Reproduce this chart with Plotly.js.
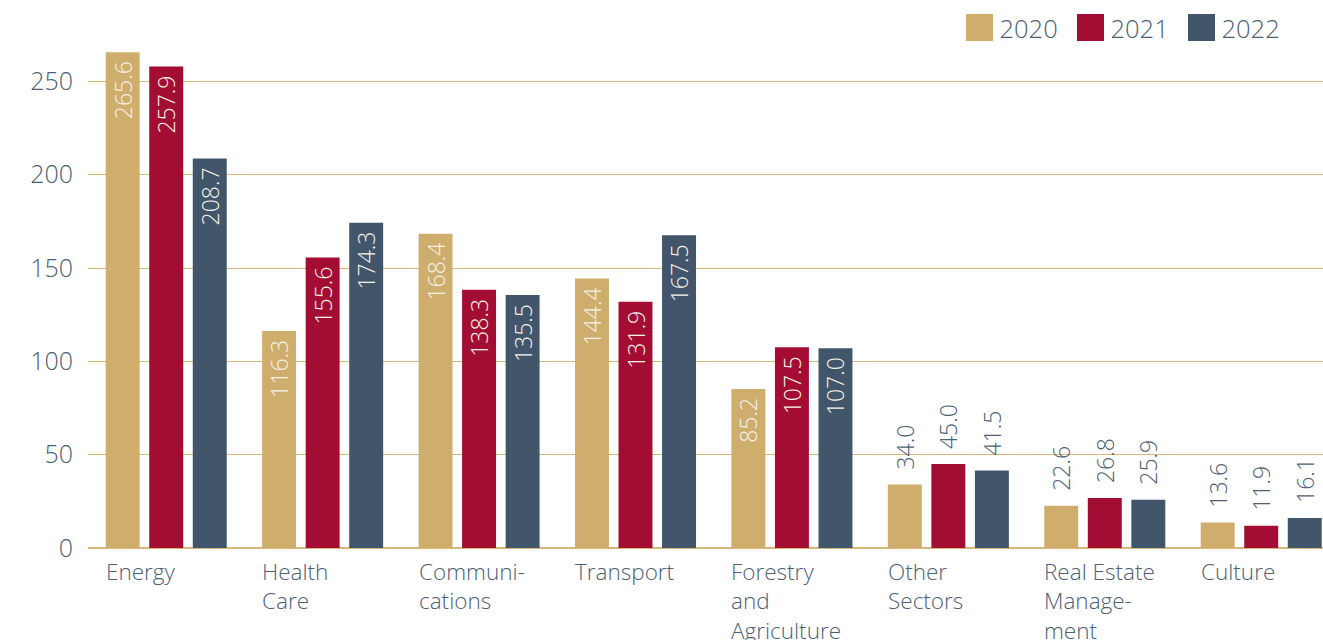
<!DOCTYPE html>
<html>
<head>
<meta charset="utf-8">
<script src="https://cdn.plot.ly/plotly-3.0.1.min.js"></script>
<style>
html,body{margin:0;padding:0;background:#fff;}
#chart{width:1323px;height:640px;}
</style>
</head>
<body>
<div id="chart"></div>
<script>
const categories = ['Energy','Health<br>Care','Communi-<br>cations','Transport','Forestry<br>and<br>Agriculture','Other<br>Sectors','Real Estate<br>Manage-<br>ment','Culture'];
const years = ['2020','2021','2022'];
const values2020 = [265.6,116.3,168.4,144.4,85.2,34.0,22.6,13.6];
const values2021 = [257.9,155.6,138.3,131.9,107.5,45.0,26.8,11.9];
const values2022 = [208.7,174.3,135.5,167.5,107.0,41.5,25.9,16.1];
const yTicks = [0,50,100,150,200,250];

const colors = ['#cfae6d','#a30d34','#42566b'];
const axisColor = '#4d6076';
const gridColor = '#d6b878';
const FONT = '"Open Sans", Lato, sans-serif';
const WEIGHT = 300;
const NB = '\u00a0';
const BARGAP = 0.165, GROUPGAP = 0.22;

const idx = categories.map((c,i)=>i);
function trace(vals, name, color){
  const inside = vals.map(v => v >= 80);
  return {
    type:'bar', name:name, x:idx, y:vals,
    marker:{color:color, line:{width:0}},
    text: vals.map((v,i)=> inside[i] ? v.toFixed(1)+NB : NB+NB+v.toFixed(1)),
    textposition: inside.map(b => b ? 'inside' : 'outside'),
    insidetextanchor:'end',
    textangle:-90,
    constraintext:'none',
    cliponaxis:false,
    textfont:{family:FONT, weight:WEIGHT, size:23, color: inside.map(b => b ? '#f6f1e8' : axisColor)},
    hoverinfo:'y'
  };
}
const data = [
  trace(values2020, years[0], colors[0]),
  trace(values2021, years[1], colors[1]),
  trace(values2022, years[2], colors[2])
];

// left edge of the first bar in each group (in category units)
const slot = (1-BARGAP)/3;
const barW = slot*(1-GROUPGAP);
const leftOff = -slot - barW/2;

const annotations = categories.map((c,i)=>({
  xref:'x', yref:'paper', x:i+leftOff, y:0, yshift:-6, xshift:-2,
  xanchor:'left', yanchor:'top', align:'left',
  text:c, showarrow:false,
  font:{family:FONT, weight:WEIGHT, size:22.5, color:axisColor}
}));

const layout = {
  width:1323, height:640,
  margin:{l:88, r:0, t:44, b:92, autoexpand:false},
  paper_bgcolor:'#fff', plot_bgcolor:'#fff',
  barmode:'group', bargap:BARGAP, bargroupgap:GROUPGAP,
  font:{family:FONT, weight:WEIGHT, color:axisColor},
  showlegend:true,
  legend:{orientation:'h', xref:'container', yref:'container', x:959.5/1323, xanchor:'left', y:1-28/640, yanchor:'middle',
          entrywidth:66, entrywidthmode:'pixels',
          font:{family:FONT, weight:WEIGHT, size:25.5, color:axisColor}, bgcolor:'rgba(0,0,0,0)', itemclick:false, traceorder:'normal'},
  xaxis:{type:'linear', range:[-0.5, 7.395], showticklabels:false, showgrid:false, zeroline:false, showline:false, ticks:''},
  yaxis:{range:[0,270], tickvals:yTicks, ticktext:yTicks.map(String), showgrid:true, gridcolor:gridColor, gridwidth:1,
         zeroline:true, zerolinecolor:gridColor, zerolinewidth:1.5, showline:false,
         ticks:'outside', ticklen:9, tickcolor:'rgba(0,0,0,0)',
         tickfont:{family:FONT, weight:WEIGHT, size:25, color:axisColor}},
  annotations:annotations
};

Plotly.newPlot('chart', data, layout, {displayModeBar:false, staticPlot:true}).then(gd=>{
  gd.querySelectorAll('.legend .legendpoints path').forEach(p=>{
    p.setAttribute('d','M13.5,13.5H-13.5V-13.5H13.5Z');
  });
});
</script>
</body>
</html>
